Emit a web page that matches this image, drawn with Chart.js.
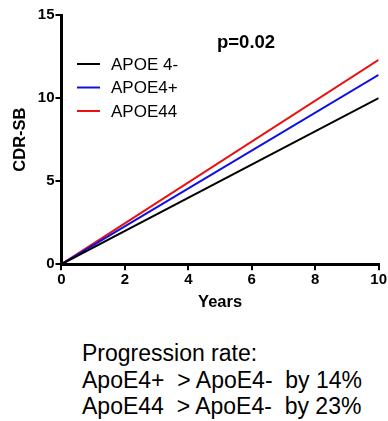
<!DOCTYPE html>
<html>
<head>
<meta charset="utf-8">
<script src="https://cdn.jsdelivr.net/npm/chart.js@4"></script>
<style>
  html, body { margin: 0; padding: 0; background: #fff; }
  body { width: 388px; height: 421px; overflow: hidden; font-family: Arial, "Liberation Sans", sans-serif; }
  #wrap { position: relative; width: 388px; height: 320px; }
  #note { position: absolute; left: 82px; top: 340px; font-size: 23px; line-height: 26.5px; color: #000; white-space: pre; }
</style>
</head>
<body>
<div id="wrap"><canvas id="cdr" width="388" height="320"></canvas></div>
<div id="note">Progression rate:
ApoE4+  &gt; ApoE4-  by 14%
ApoE44  &gt; ApoE4-  by 23%</div>
<script>
// values
const years = [0, 10]
const apoeNeg = [0, 10]
const apoePos = [0, 11.4]
const apoe44 = [0, 12.3]
const seriesLabels = ["APOE 4-", "APOE4+", "APOE44"]
const seriesColors = ["#000000", "#1010e0", "#e81010"]
const yTicks = [0, 5, 10, 15]
const xTicks = [0, 2, 4, 6, 8, 10]

const font = "Arial, 'Liberation Sans', sans-serif"

const toPoints = (vals) => vals.map((v, i) => ({ x: years[i], y: v }))

// legend + p-value drawn inside the plot area
const insideLegend = {
  id: "insideLegend",
  afterDraw(chart) {
    const ctx = chart.ctx
    ctx.save()
    chart.data.datasets.forEach((ds, i) => {
      const y = 64 + i * 23.5
      ctx.strokeStyle = ds.borderColor
      ctx.lineWidth = 2
      ctx.beginPath()
      ctx.moveTo(77, y)
      ctx.lineTo(100, y)
      ctx.stroke()
      ctx.fillStyle = "#000"
      ctx.font = "17px " + font
      ctx.textBaseline = "middle"
      ctx.fillText(ds.label, 111, y + 1)
    })
    ctx.font = "bold 18.5px " + font
    ctx.textBaseline = "middle"
    ctx.fillText("p=0.02", 217, 43)
    ctx.restore()
  }
}

new Chart(document.getElementById("cdr"), {
  type: "scatter",
  data: {
    datasets: [apoeNeg, apoePos, apoe44].map((vals, i) => ({
      label: seriesLabels[i],
      data: toPoints(vals),
      showLine: true,
      borderColor: seriesColors[i],
      backgroundColor: seriesColors[i],
      borderWidth: 2,
      pointRadius: 0
    }))
  },
  options: {
    responsive: false,
    animation: false,
    layout: { padding: { top: 15, left: 7, right: 0, bottom: 4 } },
    plugins: { legend: { display: false }, tooltip: { enabled: false } },
    scales: {
      x: {
        type: "linear",
        min: 0,
        max: 10,
        afterBuildTicks: (axis) => { axis.ticks = xTicks.map(v => ({ value: v })) },
        border: { color: "#000", width: 3 },
        grid: { drawOnChartArea: false, color: "#000", lineWidth: 2, tickLength: 6 },
        ticks: { color: "#000", font: { family: font, size: 15, weight: "bold" }, padding: 1, maxRotation: 0 },
        title: { display: true, text: "Years", color: "#000", font: { family: font, size: 16.5, weight: "bold" }, padding: { top: 2 } }
      },
      y: {
        type: "linear",
        min: 0,
        max: 15,
        afterBuildTicks: (axis) => { axis.ticks = yTicks.map(v => ({ value: v })) },
        border: { color: "#000", width: 3 },
        grid: { drawOnChartArea: false, color: "#000", lineWidth: 2, tickLength: 6 },
        ticks: { color: "#000", font: { family: font, size: 15, weight: "bold" }, padding: 1 },
        title: { display: true, text: "CDR-SB", color: "#000", font: { family: font, size: 16.5, weight: "bold" }, padding: { bottom: 6 } }
      }
    }
  },
  plugins: [insideLegend]
})
</script>
</body>
</html>
